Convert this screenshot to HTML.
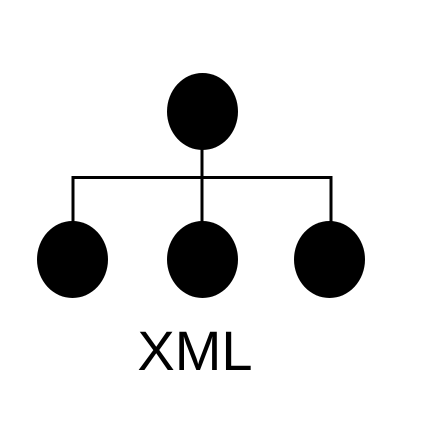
<!DOCTYPE html>
<html><head><meta charset="utf-8"><style>
html,body{margin:0;padding:0;background:#fff;}
svg{display:block;}
</style></head><body>
<svg width="424" height="430" viewBox="0 0 424 430" xmlns="http://www.w3.org/2000/svg">
<g stroke="#000" stroke-width="3" fill="none">
<line x1="202" y1="140" x2="202" y2="230"/>
<polyline points="73,230 73,177.5 331,177.5 331,230"/>
</g>
<g fill="#000">
<ellipse cx="202.5" cy="111.5" rx="35.5" ry="38.5"/>
<ellipse cx="72.5" cy="259.5" rx="35.5" ry="38.5"/>
<ellipse cx="202.5" cy="259.5" rx="35.5" ry="38.5"/>
<ellipse cx="329.5" cy="259.5" rx="35.5" ry="38.5"/>
</g>
<text x="195" y="370" text-anchor="middle" font-family="Liberation Sans, Arial, sans-serif" font-size="56" fill="#000">XML</text>
</svg>
</body></html>
